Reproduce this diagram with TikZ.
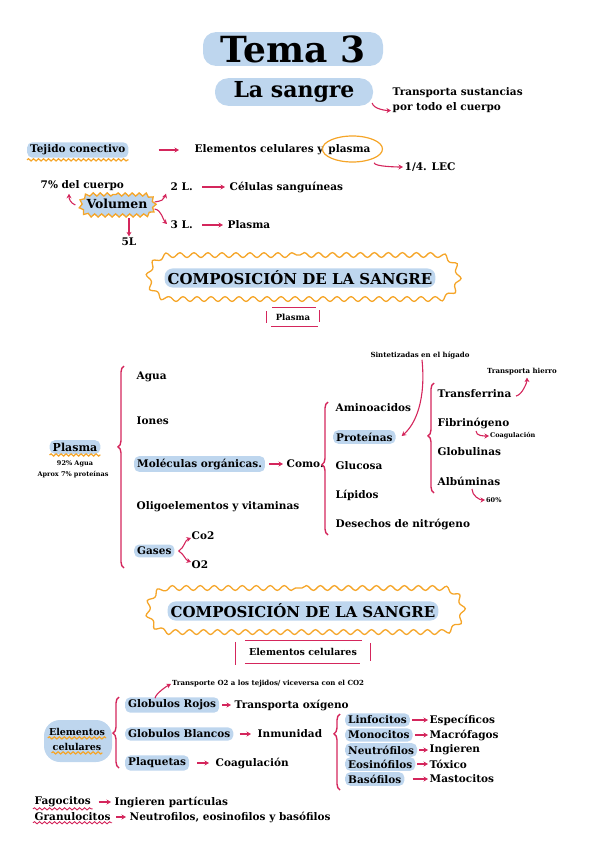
\documentclass[tikz,border=0pt]{standalone}
\usepackage{fontspec}
\setmainfont{DejaVu Serif}
\usetikzlibrary{arrows.meta,positioning,shapes.misc,decorations.pathmorphing,decorations.pathreplacing}
\definecolor{hlblue}{RGB}{190,214,238}
\definecolor{marker}{RGB}{245,165,40}
\definecolor{pinkink}{RGB}{212,38,92}
\newcommand{\fsz}[1]{\bfseries\fontsize{#1}{#1}\selectfont}

\tikzset{
  lbl/.style={font=\fsz{10.5}, inner sep=1.5pt, anchor=west},
  note/.style={font=\fsz{6.5}, inner sep=1pt},
  hl/.style={fill=hlblue, rounded corners=5pt, inner xsep=3pt, inner ysep=2.5pt},
  pill/.style={fill=hlblue, rounded corners=13pt},
  arr/.style={pinkink, line width=1.1pt, -{Stealth[length=4.5pt,width=5pt]}},
  wavy/.style={marker, line width=1.2pt, decorate, decoration={snake, amplitude=1.1pt, segment length=5pt}},
  pwavy/.style={wavy, draw=pinkink, line width=0.9pt},
  cloud/.style={draw=marker, line width=1.3pt, rounded rectangle, inner sep=0pt, decorate, decoration={snake, amplitude=2.4pt, segment length=14pt}},
  pbrace/.style={pinkink, line width=1.4pt, decorate, decoration={brace, amplitude=6pt}},
  pline/.style={pinkink, line width=1.3pt},
}

\begin{document}
\begin{tikzpicture}[x=1pt,y=1pt]
\useasboundingbox (0,0) rectangle (600,-848);

% titulo
\node[pill, font=\fsz{36}, minimum width=180, minimum height=33] (tema) at (293,-49) {Tema 3};
\node[pill, font=\fsz{22}, minimum width=158, minimum height=27] (sangre) at (294,-92) {La sangre};
\node[lbl, font=\bfseries\fontsize{10.5}{15}\selectfont, align=left, anchor=north west] (sust) at (391,-86) {Transporta sustancias\\por todo el cuerpo};
\draw[arr] ([xshift=-1pt,yshift=3pt]sangre.south east) .. controls +(1,-6) and +(-5,0) .. ([yshift=4pt]sust.south west);

% tejido
\node[lbl, hl] (tejido) at (27,-150) {Tejido conectivo};
\draw[wavy] ([yshift=-2pt]tejido.south west) -- ([yshift=-2pt]tejido.south east);
\node[lbl] (elem) at (193,-150) {Elementos celulares y};
\node[lbl, right=1.5pt of elem] (plasmaw) {plasma};
\draw[marker, line width=1.2pt] ([xshift=3pt,yshift=1pt]plasmaw.center) ellipse (30 and 13);
\draw[arr, shorten <=30pt, shorten >=14pt] (tejido) -- (elem);
\node[lbl] (lec) at (403,-167) {1/4. LEC};
\draw[arr] ([xshift=2pt,yshift=-6pt]plasmaw.south east) .. controls +(0,-4) and +(-4,0) .. (lec.west);

% volumen
\node[cloud, fill=hlblue, minimum width=74, minimum height=21, decoration={segment length=7pt, amplitude=1.6pt}] (volc) at (116,-205) {};
\node[font=\fsz{12.5}, inner sep=1pt] (vol) at (117,-204) {Volumen};
\node[lbl] (pct) at (39,-186) {7\% del cuerpo};
\draw[arr] ([xshift=-3pt]volc.west) .. controls +(-5,2) and +(0,-5) .. ([xshift=30pt,yshift=-1pt]pct.south west);
\node[lbl] (dos) at (169,-187) {2 L.};
\node[lbl] (cel) at (228,-187) {Células sanguíneas};
\draw[arr] ([xshift=1pt,yshift=3pt]volc.east) .. controls +(7,1) and +(-2,-6) .. ([xshift=-3pt,yshift=-1pt]dos.south west);
\draw[arr, shorten <=8pt, shorten >=3pt] (dos) -- (cel);
\node[lbl] (tres) at (169,-225) {3 L.};
\node[lbl] (plasmav) at (226,-225) {Plasma};
\draw[arr] ([xshift=1pt,yshift=-4pt]volc.east) .. controls +(7,-1) and +(-4,4) .. ([xshift=-2pt,yshift=1pt]tres.west);
\draw[arr, shorten <=8pt, shorten >=3pt] (tres) -- (plasmav);
\node[lbl, anchor=center] (cinco) at (129,-242) {5L};
\draw[arr, shorten <=2pt] (volc.south -| cinco.north) -- (cinco.north);

% composicion: plasma
\node[cloud, minimum width=310, minimum height=44] (comp1c) at (300,-277) {};
\node[font=\fsz{15}, hl, rounded corners=8pt] (comp1) at (300,-278) {COMPOSICIÓN DE LA SANGRE};
\node[font=\fsz{8.5}, minimum width=53, minimum height=19] (plasmahd) at (293,-317) {Plasma};
\draw[pline] ([xshift=6pt]plasmahd.north west) -- ([xshift=-4pt]plasmahd.north east);
\draw[pline] ([xshift=5pt]plasmahd.south west) -- ([xshift=-2pt]plasmahd.south east);
\draw[pline] ([yshift=-4pt]plasmahd.north west) -- ([yshift=4pt]plasmahd.south west);
\draw[pline] ([yshift=-3pt]plasmahd.north east) -- ([yshift=5pt]plasmahd.south east);

\node[font=\fsz{11}, hl] (plasma) at (75,-447) {Plasma};
\draw[wavy] ([yshift=-1pt]plasma.south west) -- ([yshift=-1pt]plasma.south east);
\node[note] (agua92) at (75,-464) {92\% Agua};
\node[note] (aprox) at (73,-475) {Aprox 7\% proteínas};
\draw[pbrace, decoration={aspect=0.6}] (124,-568) -- (124,-366);
\node[lbl] (agua) at (135,-377) {Agua};
\node[lbl] (iones) at (135,-421) {Iones};
\node[lbl, hl] (mol) at (134,-464) {Moléculas orgánicas.};
\node[lbl] (oligo) at (135,-507) {Oligoelementos y vitaminas};
\node[lbl, hl] (gases) at (134,-551) {Gases};
\node[lbl] (co) at (190,-536) {Co2};
\node[lbl] (odos) at (190,-565) {O2};
\draw[arr] ([xshift=4pt]gases.east) to[out=30,in=200] ([xshift=1pt,yshift=-2pt]co.west);
\draw[arr] ([xshift=4pt]gases.east) to[out=-30,in=160] ([xshift=1pt,yshift=3pt]odos.west);
\node[lbl] (como) at (285,-464) {Como.};
\draw[arr, shorten <=4pt, shorten >=2pt] (mol) -- (como);

\draw[pbrace, decoration={aspect=0.53}] (328,-535) -- (328,-402);
\node[lbl] (amino) at (334,-408) {Aminoacidos};
\node[lbl, hl] (prot) at (333,-437) {Proteínas};
\node[lbl] (gluc) at (334,-466) {Glucosa};
\node[lbl] (lip) at (334,-495) {Lípidos};
\node[lbl] (dese) at (334,-524) {Desechos de nitrógeno};
\node[note, font=\fsz{7}] (sint) at (420,-355) {Sintetizadas en el hígado};
\draw[arr] ([xshift=2pt]sint.south) .. controls +(4,-40) and +(14,12) .. ([xshift=6pt,yshift=1pt]prot.east);

\draw[pbrace, decoration={aspect=0.52}] (434,-493) -- (434,-383);
\node[lbl] (transf) at (436,-394) {Transferrina};
\node[lbl] (fibri) at (436,-423) {Fibrinógeno};
\node[lbl] (glob) at (436,-452) {Globulinas};
\node[lbl] (albu) at (436,-481) {Albúminas};
\node[note, font=\fsz{7}] (hierro) at (522,-372) {Transporta hierro};
\draw[arr] ([xshift=3pt,yshift=-2pt]transf.east) .. controls +(6,1) and +(0,-5) .. ([xshift=5pt,yshift=-1pt]hierro.south);
\node[note, anchor=west] (coag) at (489,-436) {Coagulación};
\draw[arr] ([xshift=-35pt,yshift=-1pt]fibri.south east) .. controls +(0,-5) and +(-5,0) .. (coag.west);
\node[note, anchor=west] (sesenta) at (485,-500) {60\%};
\draw[arr] ([xshift=-30pt,yshift=-2pt]albu.south east) .. controls +(0,-7) and +(-5,0) .. (sesenta.west);

% composicion: elementos celulares
\node[cloud, minimum width=315, minimum height=44] (comp2c) at (302,-610) {};
\node[font=\fsz{15}, hl, rounded corners=8pt] (comp2) at (303,-611) {COMPOSICIÓN DE LA SANGRE};
\node[font=\fsz{9.5}, minimum width=134, minimum height=22] (elemhd) at (303,-652) {Elementos celulares};
\draw[pline] ([xshift=9pt]elemhd.north west) -- ([xshift=-8pt]elemhd.north east);
\draw[pline] ([xshift=9pt]elemhd.south west) -- ([xshift=-10pt]elemhd.south east);
\draw[pline] ([yshift=-1pt]elemhd.north west) -- ([yshift=-2pt]elemhd.south west);
\draw[pline] ([yshift=-2pt]elemhd.north east) -- ([yshift=2pt]elemhd.south east);

\node[fill=hlblue, rounded corners=16pt, minimum width=68, minimum height=42] (blob) at (78,-741) {};
\node[font=\fsz{9.5}, inner sep=1pt] (el1) at (77,-732) {Elementos};
\node[font=\fsz{9.5}, inner sep=1pt] (el2) at (77,-747) {celulares};
\draw[wavy] ([yshift=-1pt]el1.south west) -- ([yshift=-1pt]el1.south east);
\draw[wavy] ([yshift=-1pt]el2.south west) -- ([yshift=-1pt]el2.south east);
\draw[pbrace, decoration={aspect=0.49}] (119,-768) -- (119,-697);
\node[lbl, hl] (rojos) at (125,-705) {Globulos Rojos};
\node[lbl, hl] (blancos) at (125,-734) {Globulos Blancos};
\node[lbl, hl] (plaq) at (125,-763) {Plaquetas};
\node[lbl] (oxig) at (233,-705) {Transporta oxígeno};
\node[lbl] (inmu) at (256,-734) {Inmunidad};
\node[lbl] (coag2) at (214,-763) {Coagulación};
\draw[arr, shorten <=3pt, shorten >=2pt] (rojos) -- (oxig);
\draw[arr, shorten <=6pt, shorten >=5pt] (blancos) -- (inmu);
\draw[arr, shorten <=8pt, shorten >=5pt] (plaq) -- (coag2);
\node[note, font=\fsz{7}, anchor=west] (o2co2) at (171,-684) {Transporte O2 a los tejidos/ viceversa con el CO2};
\draw[arr] ([xshift=30pt,yshift=-1pt]rojos.north west) .. controls +(1,5) and +(-4,-2) .. (o2co2.west);

\draw[pbrace, decoration={aspect=0.74}] (340,-790) -- (340,-714);
\node[lbl, hl] (linf) at (345,-720) {Linfocitos};
\node[lbl, hl] (mono) at (345,-735) {Monocitos};
\node[lbl, hl] (neut) at (345,-750) {Neutrófilos};
\node[lbl, hl] (eosi) at (345,-764) {Eosinófilos};
\node[lbl, hl] (baso) at (345,-779) {Basófilos};
\node[lbl] (espe) at (428,-720) {Específicos};
\node[lbl] (macro) at (428,-735) {Macrófagos};
\node[lbl] (ingi) at (428,-750) {Ingieren};
\node[lbl] (toxi) at (428,-764) {Tóxico};
\node[lbl] (masto) at (428,-779) {Mastocitos};
\draw[arr, shorten <=2pt] (linf) -- (espe);
\draw[arr, shorten <=2pt] (mono) -- (macro);
\draw[arr, shorten <=2pt] (neut) -- (ingi);
\draw[arr, shorten <=2pt] (eosi) -- (toxi);
\draw[arr, shorten <=8pt] (baso) -- (masto);

% fagocitos y granulocitos
\node[lbl] (fago) at (33,-802) {Fagocitos};
\draw[pwavy] (fago.south west) -- (fago.south east);
\node[lbl] (ingpar) at (113,-802) {Ingieren partículas};
\draw[arr, shorten <=6pt, shorten >=2pt] (fago) -- (ingpar);
\node[lbl] (granu) at (33,-817) {Granulocitos};
\draw[pwavy] (granu.south west) -- (granu.south east);
\node[lbl] (neos) at (128,-817) {Neutrofilos, eosinofilos y basófilos};
\draw[arr, shorten <=4pt, shorten >=2pt] (granu) -- (neos);
\end{tikzpicture}
\end{document}
